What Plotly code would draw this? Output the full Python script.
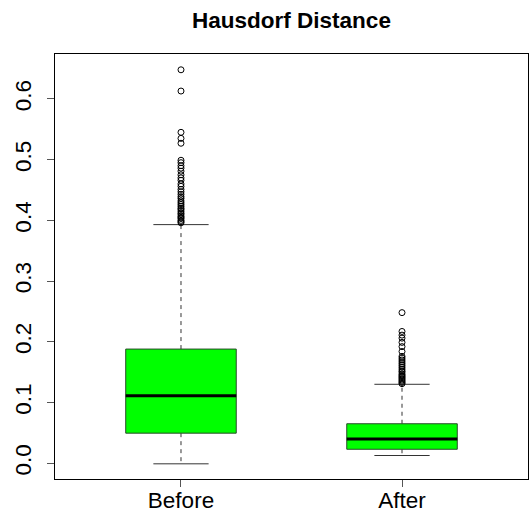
import plotly.graph_objects as go

categories = ["Before", "After"]
positions = [1, 2]
q1 = [0.0495, 0.023]
median = [0.111, 0.0397]
q3 = [0.188, 0.065]
lower_whisker = [-0.001, 0.0127]
upper_whisker = [0.393, 0.130]
outliers_before = [0.648, 0.613, 0.545, 0.535, 0.527, 0.499, 0.495, 0.490, 0.486,
                   0.481, 0.475, 0.470, 0.466, 0.460, 0.456, 0.451, 0.447, 0.443,
                   0.439, 0.436, 0.432, 0.429, 0.426, 0.423, 0.420, 0.418, 0.415,
                   0.412, 0.410, 0.407, 0.405, 0.403, 0.400, 0.398, 0.396]
outliers_after = [0.248, 0.217, 0.211, 0.206, 0.199, 0.192, 0.184, 0.176, 0.173,
                  0.170, 0.167, 0.164, 0.161, 0.158, 0.155, 0.152, 0.150, 0.147,
                  0.145, 0.143, 0.141, 0.139, 0.137, 0.135, 0.133, 0.131]
outliers = [outliers_before, outliers_after]
y_ticks = [0.0, 0.1, 0.2, 0.3, 0.4, 0.5, 0.6]
y_tick_labels = ["0.0", "0.1", "0.2", "0.3", "0.4", "0.5", "0.6"]

BOX_HALF = 0.25
CAP_HALF = 0.125
FONT = "Liberation Sans, Arial, sans-serif"

fig = go.Figure()
for i, p in enumerate(positions):
    # dashed whiskers
    for a, b in ((q3[i], upper_whisker[i]), (q1[i], lower_whisker[i])):
        fig.add_trace(go.Scatter(x=[p, p], y=[a, b], mode="lines",
                                 line=dict(color="#333333", width=1, dash="4px,4px"),
                                 hoverinfo="skip", showlegend=False))
    # caps
    for v in (upper_whisker[i], lower_whisker[i]):
        fig.add_trace(go.Scatter(x=[p - CAP_HALF, p + CAP_HALF], y=[v, v], mode="lines",
                                 line=dict(color="#333333", width=1),
                                 hoverinfo="skip", showlegend=False))
    # box
    fig.add_trace(go.Scatter(x=[p - BOX_HALF, p + BOX_HALF, p + BOX_HALF, p - BOX_HALF, p - BOX_HALF],
                             y=[q1[i], q1[i], q3[i], q3[i], q1[i]],
                             mode="lines", fill="toself", fillcolor="#00FF00",
                             line=dict(color="#2a4a2a", width=1),
                             hoverinfo="skip", showlegend=False))
    # median
    fig.add_trace(go.Scatter(x=[p - BOX_HALF, p + BOX_HALF], y=[median[i], median[i]],
                             mode="lines", line=dict(color="black", width=3),
                             hoverinfo="skip", showlegend=False))
    # outliers
    fig.add_trace(go.Scatter(x=[p] * len(outliers[i]), y=outliers[i], mode="markers",
                             marker=dict(symbol="circle-open", size=6, color="black",
                                         line=dict(width=1, color="black")),
                             hoverinfo="skip", showlegend=False))

fig.update_layout(
    width=529, height=515,
    margin=dict(l=55, r=1, t=54, b=36),
    paper_bgcolor="white", plot_bgcolor="white",
    font=dict(family=FONT, color="black"),
    title=dict(text="<b>Hausdorf Distance</b>", x=0.5, xref="paper",
               y=1 - 20 / 515, yref="container", yanchor="middle", xanchor="center",
               font=dict(size=22.5, family=FONT, color="black")),
)
fig.update_xaxes(range=[0.43, 2.57], tickvals=positions, ticktext=categories,
                 showgrid=False, zeroline=False, showline=True, mirror=True,
                 linecolor="black", linewidth=1, ticks="outside", ticklen=7,
                 tickcolor="#555555", ticklabelstandoff=-6,
                 tickfont=dict(size=22.5, family=FONT))
fig.update_yaxes(range=[-0.026, 0.674], tickvals=y_ticks, ticktext=y_tick_labels,
                 showgrid=False, zeroline=False, showline=True, mirror=True,
                 linecolor="black", linewidth=1, ticks="outside", ticklen=7,
                 tickcolor="#555555", tickangle=-90, ticklabelstandoff=7,
                 tickfont=dict(size=22.5, family=FONT))

fig.write_html("out.html")
